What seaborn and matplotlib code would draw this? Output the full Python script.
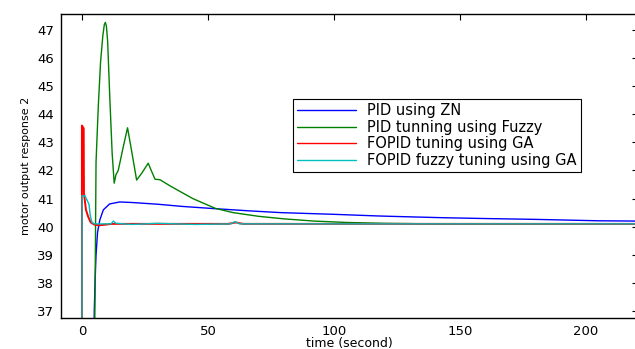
import numpy as np
import pandas as pd
import matplotlib
matplotlib.use("Agg")
import matplotlib.pyplot as plt
import seaborn as sns

# 각 제어기의 응답 곡선
t_zn = [4.5, 4.9, 5.2, 5.6, 6.2, 7.1, 8.5, 11, 15, 20, 30, 40, 53, 67, 79, 100, 118, 126, 143, 160, 180, 205, 220]
y_zn = [34, 37, 38, 39, 39.8, 40.24, 40.6, 40.81, 40.88, 40.86, 40.8, 40.72, 40.64, 40.56, 40.5, 40.44, 40.38, 40.36, 40.32, 40.29, 40.26, 40.21, 40.2]

t_fuzzy = [4.8, 5.2, 5.6, 6.5, 7.4, 8.3, 8.9, 9.3, 9.7, 10.2, 11.1, 12.0, 12.8, 13.5, 14.4, 16.3, 18.1, 19.9, 21.7, 23.7, 26.3, 27.5, 29.0, 31.0, 35, 39, 44, 53, 60, 70, 80, 92, 105, 120, 140, 220]
y_fuzzy = [34, 37.5, 42.3, 44.3, 45.87, 46.8, 47.2, 47.27, 47.15, 46.6, 44.5, 42.6, 41.55, 41.85, 42.0, 42.8, 43.52, 42.6, 41.66, 41.9, 42.26, 42.0, 41.69, 41.67, 41.45, 41.25, 41.0, 40.65, 40.5, 40.37, 40.28, 40.2, 40.15, 40.12, 40.1, 40.1]

t_ga = [0, 0, 0.7, 0.8, 1.2, 1.6, 2.5, 3.5, 5, 7, 9, 12, 20, 40, 58, 61, 64, 80, 220]
y_ga = [34, 43.6, 43.5, 41.2, 40.9, 40.6, 40.35, 40.15, 40.07, 40.05, 40.07, 40.1, 40.1, 40.1, 40.1, 40.15, 40.1, 40.1, 40.1]

t_fga = [0, 0.05, 1.2, 2.0, 2.8, 3.3, 4.0, 5.0, 11.5, 12.5, 13.5, 20, 30, 45, 59, 60.7, 62.5, 80, 220]
y_fga = [34, 41.1, 41.1, 40.95, 40.8, 40.4, 40.15, 40.1, 40.1, 40.2, 40.12, 40.08, 40.12, 40.08, 40.1, 40.18, 40.1, 40.1, 40.1]

labels = ["PID using ZN", "PID tunning using Fuzzy", "FOPID tuning using GA", "FOPID fuzzy tuning using GA"]
colors = ["#0000ff", "#008000", "#ff0000", "#00bfbf"]
widths = [1.0, 1.0, 1.4, 1.0]
xticks = [0, 50, 100, 150, 200]
yticks = [37, 38, 39, 40, 41, 42, 43, 44, 45, 46, 47]

sns.set_style("white")
plt.rcParams['font.family'] = ['DejaVu Sans']
plt.rcParams['text.color'] = 'black'
plt.rcParams['axes.labelcolor'] = 'black'

fig = plt.figure(figsize=(6.35, 3.49), dpi=100)
ax = fig.add_axes([61/635, 31/349, 577/635, 304/349])

series = [(t_zn, y_zn), (t_fuzzy, y_fuzzy), (t_ga, y_ga), (t_fga, y_fga)]
for (t, y), lab, col, lw in zip(series, labels, colors, widths):
    df = pd.DataFrame({"t": t, "y": y})
    sns.lineplot(data=df, x="t", y="y", ax=ax, color=col, label=lab,
                 estimator=None, sort=False, linewidth=lw)

ax.set_xlim(-8.3, 220.6)
ax.set_ylim(36.75, 47.57)
ax.set_xticks(xticks)
ax.set_yticks(yticks)
ax.tick_params(direction="in", length=4, width=0.8, top=True, right=True,
               labelsize=9.5, colors="black", pad=5)
for s in ax.spines.values():
    s.set_color("black")
    s.set_linewidth(1.0)
ax.set_xlabel("time (second)", fontsize=9, labelpad=-1)
ax.set_ylabel("motor output response 2", fontsize=8, labelpad=4)

leg = ax.legend(loc="upper left", bbox_to_anchor=(293/635, 1 - 99/349),
                bbox_transform=fig.transFigure, borderaxespad=0,
                fontsize=10.5, frameon=True, fancybox=False, framealpha=1,
                edgecolor="black", handlelength=4.0, handletextpad=0.8,
                labelspacing=0.1, borderpad=0.3)
leg.get_frame().set_linewidth(0.8)
for h in leg.get_lines():
    h.set_linewidth(1.0)
for txt in leg.get_texts():
    txt.set_color("black")

fig.savefig("out.png", dpi=100)
